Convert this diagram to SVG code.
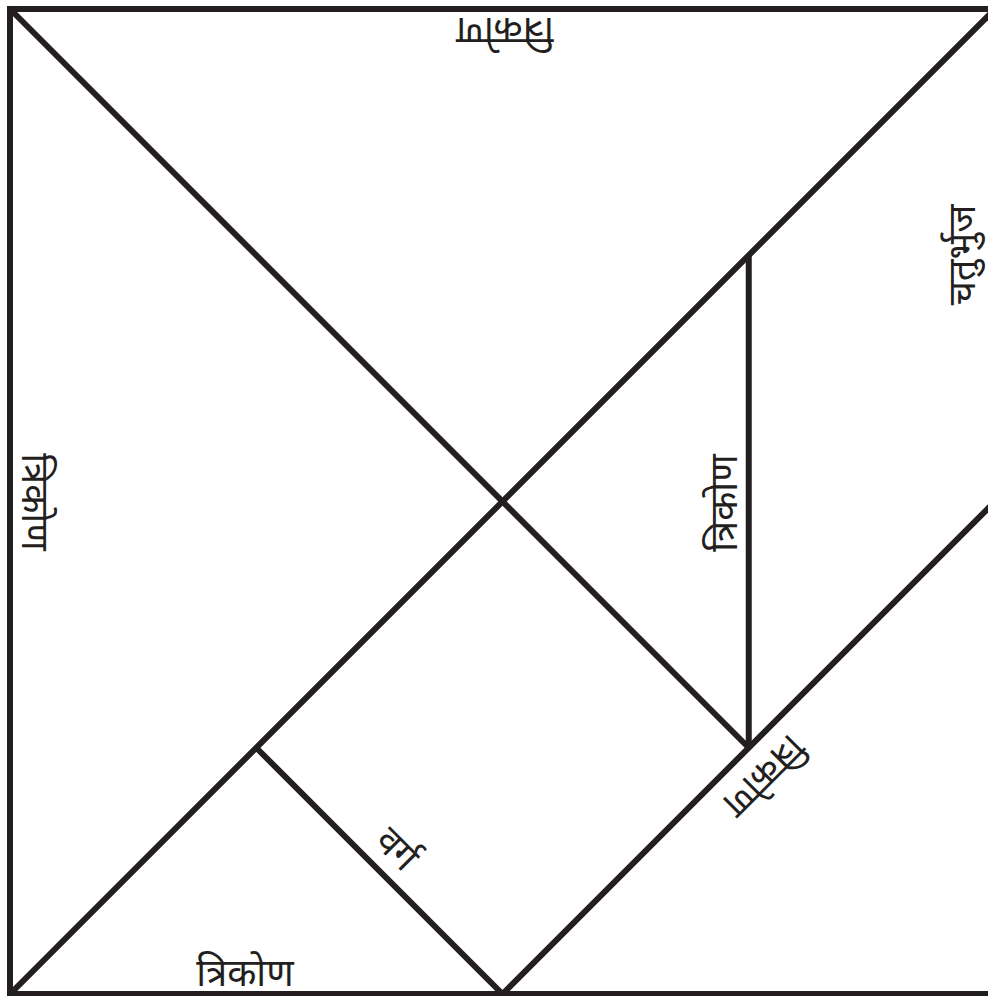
<svg xmlns="http://www.w3.org/2000/svg" width="988" height="996" viewBox="0 0 988 996">
<style>
.e{fill:none;stroke:#231f20;stroke-width:6;stroke-linecap:butt;stroke-linejoin:miter}
.t{font-family:"Noto Sans","Noto Sans Devanagari",sans-serif;font-size:38px;fill:#231f20;text-anchor:middle}
</style>
<rect width="988" height="996" fill="#ffffff"/>
<g id="connectors">
<rect class="e" x="10" y="9" width="985" height="985"/>
<line class="e" x1="10" y1="9" x2="748.75" y2="747.75"/>
<line class="e" x1="10" y1="994" x2="995" y2="9"/>
<line class="e" x1="256.25" y1="747.75" x2="502.5" y2="994"/>
<line class="e" x1="748.75" y1="255.25" x2="748.75" y2="747.75"/>
<line class="e" x1="502.5" y1="994" x2="995" y2="501.5"/>
</g>
<g id="tri-top"><text class="t" transform="translate(505,18) rotate(180)">त्रिकोण</text></g>
<g id="tri-left"><text class="t" transform="translate(22,502) rotate(90)">त्रिकोण</text></g>
<g id="tri-small"><text class="t" transform="translate(737,503) rotate(-90)">त्रिकोण</text></g>
<g id="parallelogram"><text class="t" transform="translate(975,255) rotate(-90)">चतुर्भुज</text></g>
<g id="tri-medium"><text class="t" transform="translate(755,767) rotate(135)">त्रिकोण</text></g>
<g id="square"><text class="t" transform="translate(388,858) rotate(45)">वर्ग</text></g>
<g id="tri-bottom"><text class="t" x="245" y="986">त्रिकोण</text></g>
</svg>
